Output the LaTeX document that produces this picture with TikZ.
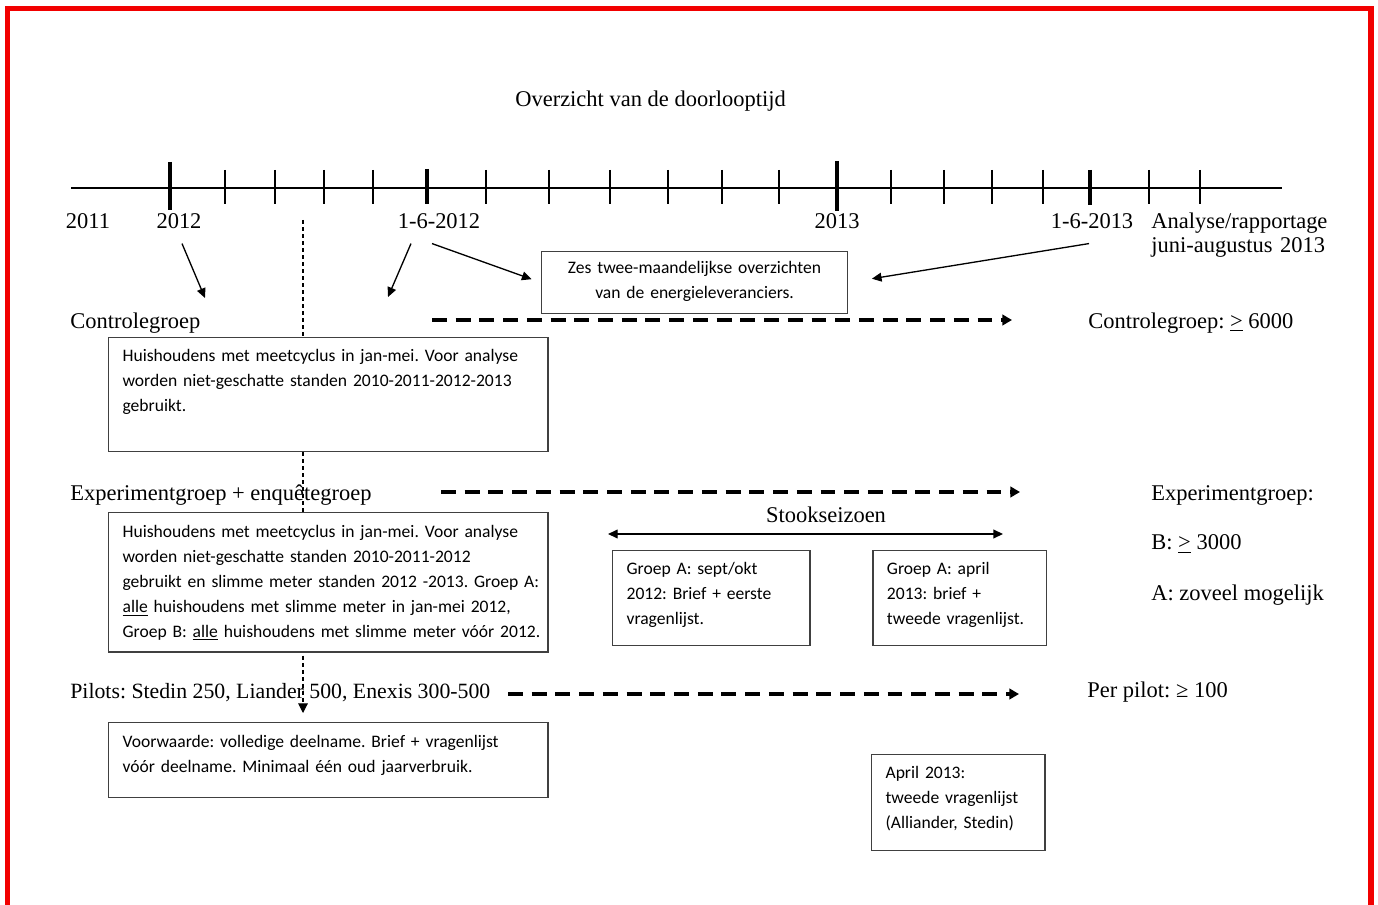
\documentclass[tikz,border=0pt]{standalone}
\usepackage{fontspec}
\setmainfont{Liberation Serif}
\newfontfamily\boxfont{Carlito}
\usepackage{tikz}
\usetikzlibrary{positioning}
\usetikzlibrary{arrows.meta}
\usetikzlibrary{calc}
\frenchspacing
\colorlet{Frame}{red!95!black}
\newcommand\lblfont{\fontsize{12.8pt}{13.6pt}\selectfont}
\newcommand\pilfont{\fontsize{12.4pt}{13.6pt}\selectfont}
\newcommand\bxfont{\boxfont\fontsize{10pt}{14.17pt}\selectfont}

\tikzset{
  lbl/.style={anchor=base west, inner sep=0pt, font=\lblfont},
  yr/.style={anchor=base, inner sep=0pt, font=\lblfont},
  infobox/.style={draw=black!75, fill=white, line width=0.8pt, anchor=north west, inner xsep=3pt, inner ysep=0pt, font=\bxfont},
  leftbox/.style={infobox, align=left, execute at begin node={\leftskip=4.9pt}},
  tick/.style={line width=0.75pt},
  bigtick/.style={line width=2.1pt},
  pointer/.style={line width=0.75pt, -{Triangle[length=5.5pt,width=5pt]}},
  flow/.style={line width=2pt, dash pattern=on 8.5pt off 5pt, -{Triangle[length=5.5pt,width=6pt]}},
  guide/.style={line width=0.6pt, dash pattern=on 2.3pt off 1.7pt, -{Triangle[length=5.5pt,width=5.5pt]}},
}

\begin{document}
\begin{tikzpicture}[x=0.02cm, y=-0.02cm]
        \fill[white] (0,0) rectangle (1378,905);
        \useasboundingbox (0,0) rectangle (1378,905);
        \draw[Frame, line width=2.9pt] (7.5,905) -- (7.5,8.5) -- (1371,8.5) -- (1371,905);

        % dotted guide (behind the boxes)
        \coordinate (VTop) at (303,220);
        \coordinate (VBot) at (303,713);
        \draw[guide] (VTop) -- (VBot);

        % title and time axis
        \node[yr] (Ttl) at (650.5,107) {Overzicht van de doorlooptijd};
        \coordinate (AxL) at (71,188);
        \coordinate (AxR) at (1282,188);
        \draw[line width=1.7pt] (AxL) -- (AxR);
        \foreach \x in {225,275,324,373,486,549,610,668,722,779,891,944,992,1043,1149,1200}
            \draw[tick] (\x,170) -- (\x,204);
        \draw[bigtick] (170,162) -- (170,210);
        \draw[bigtick] (427,169) -- (427,204);
        \draw[bigtick] (837,161) -- (837,211);
        \draw[bigtick] (1090,170) -- (1090,205);

        % dates
        \node[yr] (Y2011) at (88,229) {2011};
        \node[yr] (Y2012) at (179,229) {2012};
        \node[yr] (Y1206) at (439,229) {1-6-2012};
        \node[yr] (Y2013) at (837,229) {2013};
        \node[yr] (Y1306) at (1092,229) {1-6-2013};
        \node[lbl, text width=105pt, align=left] (Ana) at (1151,229) {Analyse/rapportage\\juni-augustus 2013};

        % supplier overviews
        \node[infobox, align=center, text width=168pt, text height=12.47pt, text depth=22.68pt] (Zes) at (541,251)
            {Zes twee-maandelijkse overzichten\\van de energieleveranciers.};

        % control group
        \node[lbl] (Ctrl) at (70,328) {Controlegroep};
        \node[lbl] (CtrlN) at (1088,328) {Controlegroep: \underline{>} 6000};
        \node[leftbox, text width=244pt, text height=13.6pt, text depth=51pt] (Bx1) at (108,337)
            {Huishoudens met meetcyclus in jan-mei. Voor analyse\\worden niet-geschatte standen 2010-2011-2012-2013\\gebruikt.};

        % experiment group
        \node[lbl] (Exp) at (70,500) {Experimentgroep + enquêtegroep};
        \node[lbl] (ExpN) at (1151,500) {Experimentgroep:};
        \node[lbl, below=28.3pt of ExpN.base west, anchor=base west] (ExpB) {B: \underline{>} 3000};
        \node[lbl, below=28.9pt of ExpB.base west, anchor=base west] (ExpA) {A: zoveel mogelijk};
        \node[leftbox, text width=244pt, text height=14.17pt, text depth=65.2pt] (Bx2) at (108,512)
            {Huishoudens met meetcyclus in jan-mei. Voor analyse\\worden niet-geschatte standen 2010-2011-2012\\gebruikt en slimme meter standen 2012 -2013. Groep A:\\\underline{alle} huishoudens met slimme meter in jan-mei 2012,\\Groep B: \underline{alle} huishoudens met slimme meter vóór 2012.};
        \node[yr] (Stook) at (826,522) {Stookseizoen};
        \node[leftbox, text width=106.2pt, text height=13.6pt, text depth=40.25pt] (BxA) at (612,550)
            {Groep A: sept/okt\\2012: Brief + eerste\\vragenlijst.};
        \node[leftbox, text width=92.6pt, text height=13.6pt, text depth=40.25pt, right=35.2pt of BxA.north east, anchor=north west] (BxB)
            {Groep A: april\\2013: brief +\\tweede vragenlijst.};

        % pilots
        \node[lbl, font=\pilfont] (Pil) at (70,698) {Pilots: Stedin 250, Liander 500, Enexis 300-500};
        \node[lbl] (PilN) at (1087,697) {Per pilot: ≥ 100};
        \node[leftbox, text width=244pt, text height=14.17pt, text depth=28.35pt] (Bx3) at (108,722)
            {Voorwaarde: volledige deelname. Brief + vragenlijst\\vóór deelname. Minimaal één oud jaarverbruik.};
        \node[leftbox, text width=92.6pt, text height=13.6pt, text depth=40.82pt] (Bx4) at (871,754)
            {April 2013:\\tweede vragenlijst\\(Alliander, Stedin)};

        % free ends
        \coordinate (P2012) at (205,298);
        \coordinate (P1206) at (388,297);
        \coordinate (C1) at (432,320);
        \coordinate (C2) at (1012,320);
        \coordinate (E1) at (441,492);
        \coordinate (E2) at (1020,492);
        \coordinate (S1) at (608,534);
        \coordinate (S2) at (1003,534);
        \coordinate (L1) at (508,694);
        \coordinate (L2) at (1019,694);

        % edges
        \draw[pointer] ($(Y2012.south)+(3,14)$) -- (P2012);
        \draw[pointer] ($(Y1206.south)+(-28,14)$) -- (P1206);
        \draw[pointer, shorten >=5.7pt] ($(Y1206.south)+(-7,14)$) -- (Zes.west);
        \draw[pointer, shorten >=13.7pt] ($(Y1306.south)+(-3,14)$) -- (Zes.east);
        \draw[flow] (C1) -- (C2);
        \draw[flow] (E1) -- (E2);
        \draw[flow] (L1) -- (L2);
        \draw[pointer, {Triangle[length=5.5pt,width=5pt]}-{Triangle[length=5.5pt,width=5pt]}] (S1) -- (S2);
   \end{tikzpicture}
\end{document}
